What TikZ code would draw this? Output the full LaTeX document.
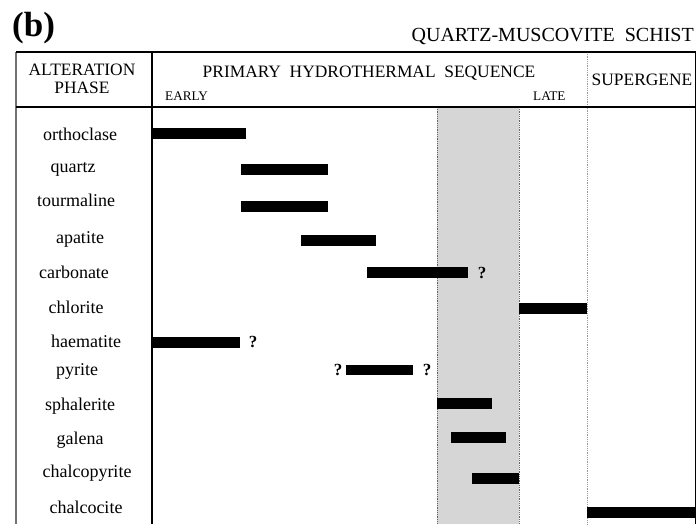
\documentclass[tikz,border=0pt]{standalone}
\usepackage{fontspec}
\setmainfont{Liberation Serif}
\begin{document}
\begin{tikzpicture}[x=1pt,y=-1pt,
  lbl/.style={font=\fontsize{18}{20}\selectfont, inner sep=0pt, anchor=base},
  hdr/.style={font=\fontsize{17.4}{18}\selectfont, inner sep=0pt, anchor=base},
  small/.style={font=\fontsize{13.2}{14}\selectfont, inner sep=0pt, anchor=base west},
  qm/.style={font=\bfseries\fontsize{17}{17}\selectfont, inner sep=0pt},
  barfill/.style={fill=black},
  dotline/.style={densely dotted, line width=0.8pt, draw=black!60}]
\useasboundingbox (0,0) rectangle (700,524);
% gray band
\fill[black!16] (437,107) rectangle (519,524);
\draw[dotline] (437,107) -- (437,524);
\draw[dotline] (519,107) -- (519,524);
\draw[densely dotted, line width=0.8pt, draw=black!40] (587,52) -- (587,524);
% frame
\draw[line width=1.6pt, draw=black!55] (16,52) -- (16,524);
\draw[line width=1.2pt] (16,52) -- (695.5,52) -- (695.5,524);
\draw[line width=1.2pt] (16,107) -- (695.5,107);
\draw[line width=1.3pt] (152,52) -- (152,524);
% titles
\node[font=\bfseries\fontsize{35}{36}\selectfont, inner sep=0pt, anchor=base west] (b) at (12,37) {(b)};
\node[font=\fontsize{20}{20}\selectfont, inner sep=0pt, anchor=base east] (rock) at (694,42) {QUARTZ-MUSCOVITE\ \ SCHIST};
\node[hdr] (alt1) at (82,76) {ALTERATION};
\node[hdr] (alt2) at (82,94) {PHASE};
\node[hdr] (prim) at (369,78) {PRIMARY\ \ HYDROTHERMAL\ \ SEQUENCE};
\node[small] (early) at (165,100) {EARLY};
\node[small] (late) at (533,100) {LATE};
\node[hdr] (sup) at (642,85) {SUPERGENE};
% labels
\node[lbl] (l1) at (80,140) {orthoclase};
\node[lbl] (l2) at (73,172) {quartz};
\node[lbl] (l3) at (76,206) {tourmaline};
\node[lbl] (l4) at (80,243) {apatite};
\node[lbl] (l5) at (74,278) {carbonate};
\node[lbl] (l6) at (76,313) {chlorite};
\node[lbl] (l7) at (86,347) {haematite};
\node[lbl] (l8) at (77,375) {pyrite};
\node[lbl] (l9) at (80,410) {sphalerite};
\node[lbl] (l10) at (80,444) {galena};
\node[lbl] (l11) at (87,477) {chalcopyrite};
\node[lbl] (l12) at (86,513) {chalcocite};
% bars
\fill[barfill] (152,127.5) rectangle (246,138.5);
\fill[barfill] (241,164) rectangle (328,175);
\fill[barfill] (241,200.5) rectangle (328,211.5);
\fill[barfill] (301,235) rectangle (376,246);
\fill[barfill] (367,267) rectangle (468,278);
\fill[barfill] (519,303) rectangle (587,313.5);
\fill[barfill] (152,336.5) rectangle (240,347.5);
\fill[barfill] (346,364.5) rectangle (413,375);
\fill[barfill] (437,398) rectangle (491.5,408.5);
\fill[barfill] (451,432) rectangle (505.5,442.5);
\fill[barfill] (472,473) rectangle (519,483.5);
\fill[barfill] (587,507) rectangle (696,517.5);
% question marks
\node[qm] (q1) at (482,273) {?};
\node[qm] (q2) at (253,342) {?};
\node[qm] (q3) at (338,370) {?};
\node[qm] (q4) at (427,370) {?};
\end{tikzpicture}
\end{document}
